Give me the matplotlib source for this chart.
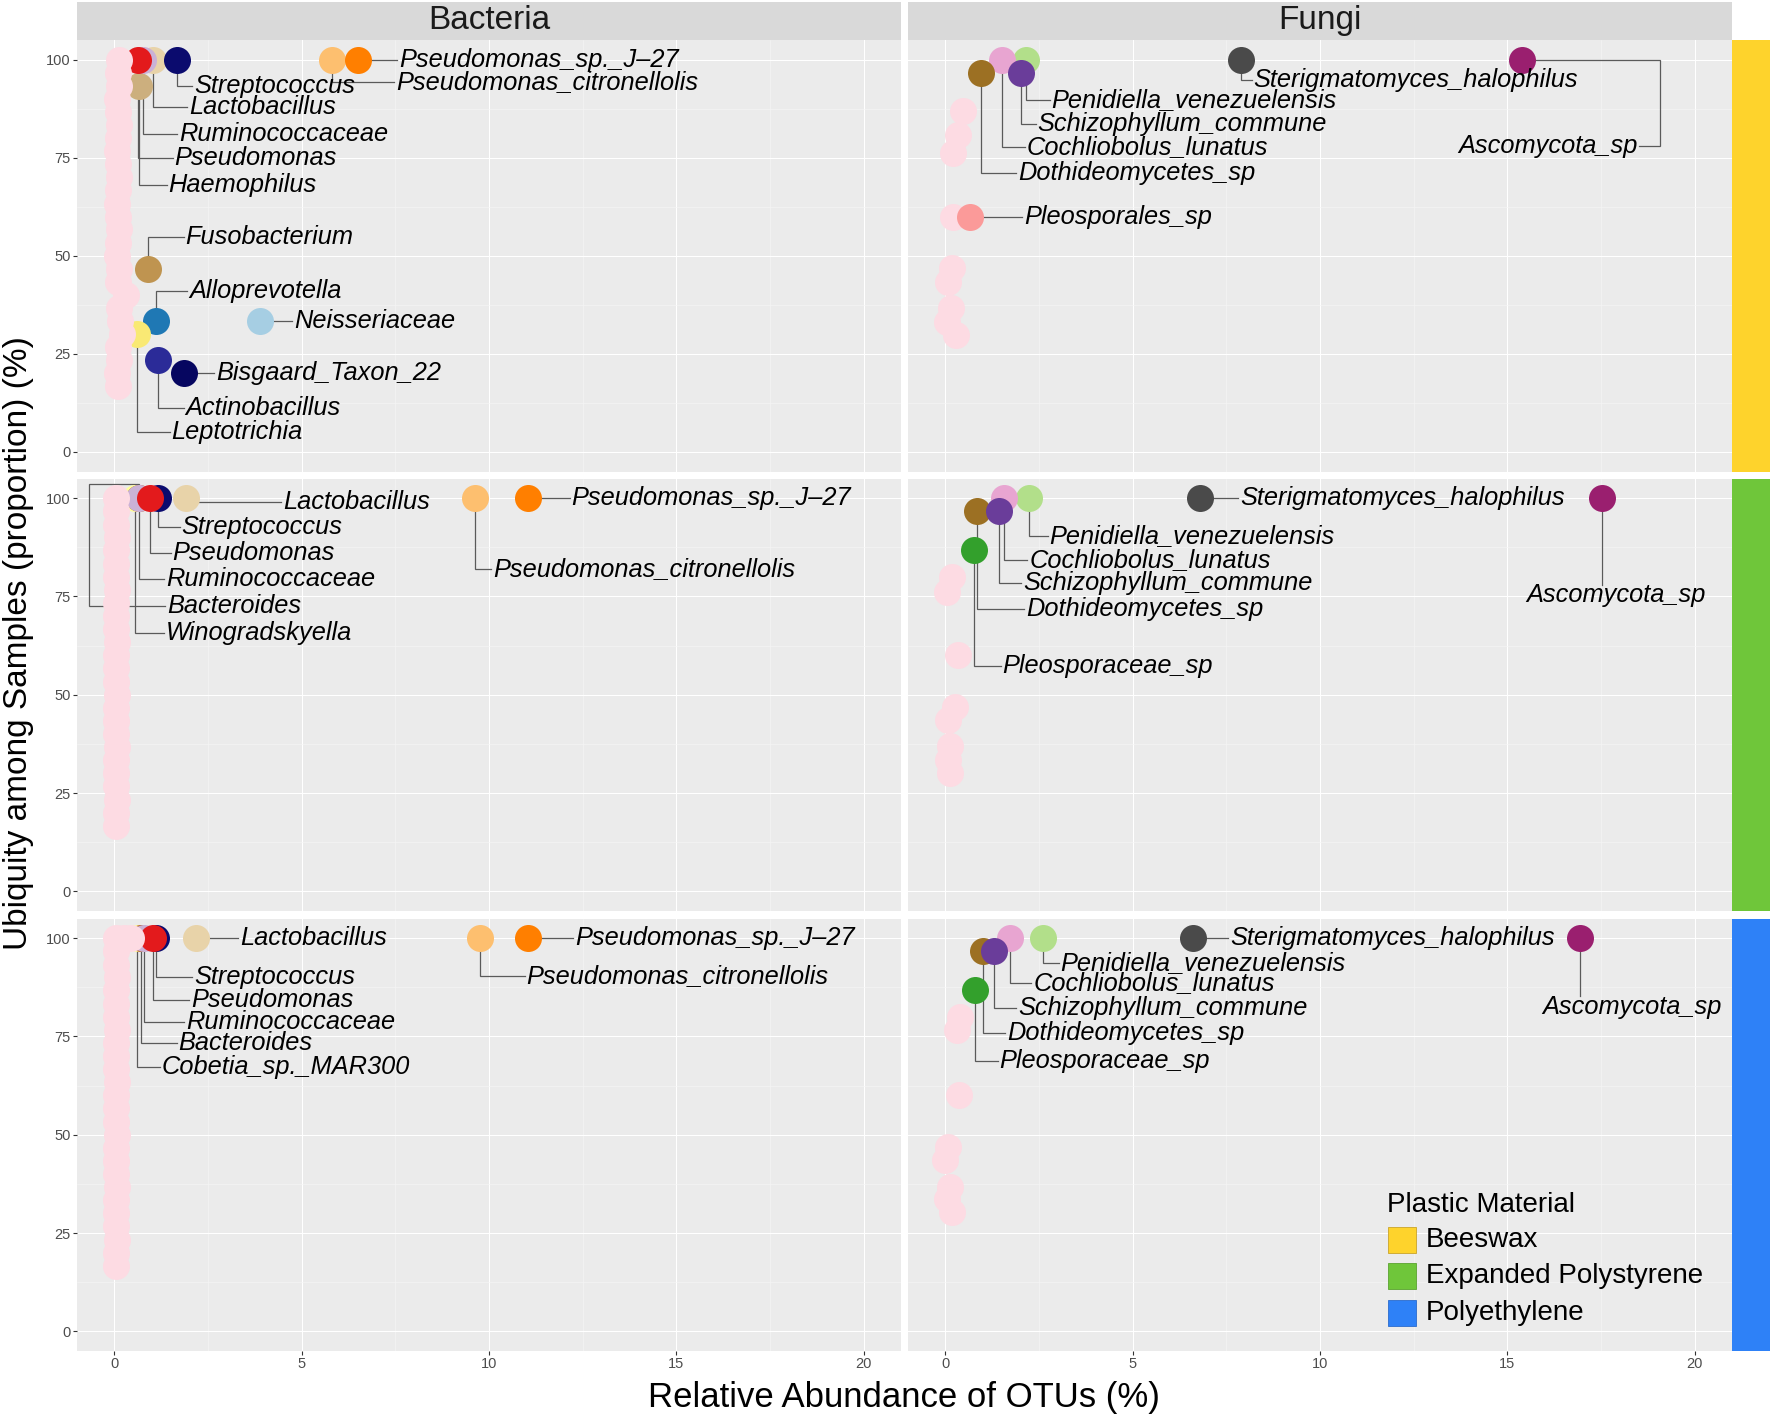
import matplotlib
matplotlib.use("Agg")
import matplotlib.pyplot as plt
from matplotlib.patches import Rectangle

# ---------------------------------------------------------------- data
KINGDOMS = ["Bacteria", "Fungi"]
MATERIALS = ["Beeswax", "Expanded Polystyrene", "Polyethylene"]
X_TICKS = [0, 5, 10, 15, 20]
Y_TICKS = [0, 25, 50, 75, 100]

# Bacteria - Beeswax
BACT_BW_TAXA = ["Alloprevotella", "Leptotrichia", "Actinobacillus", "Bisgaard_Taxon_22",
                "Neisseriaceae", "Fusobacterium", "Haemophilus", "Lactobacillus",
                "Ruminococcaceae", "Pseudomonas", "Streptococcus",
                "Pseudomonas_citronellolis", "Pseudomonas_sp._J\u201327"]
BACT_BW_ABUND = [1.12, 0.60, 1.17, 1.87, 3.89, 0.90, 0.65, 1.03, 0.76, 0.63, 1.66, 5.80, 6.50]
BACT_BW_UBIQ = [33.3, 30.0, 23.3, 20.0, 33.3, 46.7, 93.3, 100, 100, 100, 100, 100, 100]
BACT_BW_OTHER_ABUND = [0.10, 0.08, 0.12, 0.10, 0.20, 0.15, 0.12, 0.30, 0.10, 0.12, 0.08, 0.10, 0.12,
                       0.10, 0.08, 0.10, 0.12, 0.10, 0.08, 0.10, 0.12, 0.10, 0.08, 0.12, 0.10, 0.12]
BACT_BW_OTHER_UBIQ = [16.7, 20.0, 23.3, 26.7, 30.0, 33.3, 36.7, 40.0, 43.3, 46.7, 50.0, 53.3, 56.7,
                      60.0, 63.3, 66.7, 70.0, 73.3, 76.7, 80.0, 83.3, 86.7, 90.0, 93.3, 96.7, 100]

# Bacteria - Expanded Polystyrene
BACT_EPS_TAXA = ["Winogradskyella", "Bacteroides", "Lactobacillus", "Streptococcus",
                 "Ruminococcaceae", "Pseudomonas", "Pseudomonas_citronellolis",
                 "Pseudomonas_sp._J\u201327"]
BACT_EPS_ABUND = [0.56, 0.65, 1.92, 1.15, 0.65, 0.96, 9.63, 11.04]
BACT_EPS_UBIQ = [100, 100, 100, 100, 100, 100, 100, 100]
BACT_EPS_OTHER_ABUND = [0.05, 0.04, 0.06, 0.05, 0.04, 0.05, 0.06, 0.05, 0.04, 0.05, 0.06, 0.05, 0.04,
                        0.05, 0.06, 0.05, 0.04, 0.05, 0.06, 0.05, 0.04, 0.05, 0.06, 0.05, 0.04, 0.05]
BACT_EPS_OTHER_UBIQ = [16.7, 20.0, 23.3, 26.7, 30.0, 33.3, 36.7, 40.0, 43.3, 46.7, 50.0, 53.3, 56.7,
                       60.0, 63.3, 66.7, 70.0, 73.3, 76.7, 80.0, 83.3, 86.7, 90.0, 93.3, 96.7, 100]

# Bacteria - Polyethylene
BACT_PE_TAXA = ["Cobetia_sp._MAR300", "Bacteroides", "Ruminococcaceae", "Streptococcus",
                "Pseudomonas", "Lactobacillus", "Pseudomonas_citronellolis",
                "Pseudomonas_sp._J\u201327"]
BACT_PE_ABUND = [0.60, 0.70, 0.80, 1.12, 1.03, 2.19, 9.77, 11.05]
BACT_PE_UBIQ = [100, 100, 100, 100, 100, 100, 100, 100]
BACT_PE_OTHER_ABUND = [0.05, 0.04, 0.06, 0.05, 0.04, 0.05, 0.06, 0.05, 0.04, 0.05, 0.06, 0.05, 0.04,
                       0.05, 0.06, 0.05, 0.04, 0.05, 0.06, 0.05, 0.04, 0.05, 0.06, 0.05, 0.04, 0.05,
                       0.25, 0.45]
BACT_PE_OTHER_UBIQ = [16.7, 20.0, 23.3, 26.7, 30.0, 33.3, 36.7, 40.0, 43.3, 46.7, 50.0, 53.3, 56.7,
                      60.0, 63.3, 66.7, 70.0, 73.3, 76.7, 80.0, 83.3, 86.7, 90.0, 93.3, 96.7, 100,
                      100, 100]

# Fungi - Beeswax
FUNGI_BW_TAXA = ["Penidiella_venezuelensis", "Cochliobolus_lunatus", "Dothideomycetes_sp",
                 "Schizophyllum_commune", "Sterigmatomyces_halophilus", "Ascomycota_sp",
                 "Pleosporales_sp"]
FUNGI_BW_ABUND = [2.16, 1.52, 0.96, 2.03, 7.90, 15.40, 0.66]
FUNGI_BW_UBIQ = [100, 100, 96.7, 96.7, 100, 100, 60.0]
FUNGI_BW_OTHER_ABUND = [0.48, 0.33, 0.21, 0.19, 0.18, 0.06, 0.14, 0.03, 0.29]
FUNGI_BW_OTHER_UBIQ = [86.9, 80.7, 76.3, 60.0, 46.8, 43.3, 36.6, 33.2, 29.8]

# Fungi - Expanded Polystyrene
FUNGI_EPS_TAXA = ["Penidiella_venezuelensis", "Cochliobolus_lunatus", "Dothideomycetes_sp",
                  "Schizophyllum_commune", "Pleosporaceae_sp", "Sterigmatomyces_halophilus",
                  "Ascomycota_sp"]
FUNGI_EPS_ABUND = [2.24, 1.55, 0.85, 1.42, 0.75, 6.80, 17.53]
FUNGI_EPS_UBIQ = [100, 100, 96.7, 96.7, 86.7, 100, 100]
FUNGI_EPS_OTHER_ABUND = [0.18, 0.04, 0.33, 0.26, 0.08, 0.13, 0.08, 0.13]
FUNGI_EPS_OTHER_UBIQ = [80.0, 76.2, 60.0, 46.9, 43.5, 36.9, 33.5, 30.2]

# Fungi - Polyethylene
FUNGI_PE_TAXA = ["Penidiella_venezuelensis", "Cochliobolus_lunatus", "Dothideomycetes_sp",
                 "Schizophyllum_commune", "Pleosporaceae_sp", "Sterigmatomyces_halophilus",
                 "Ascomycota_sp"]
FUNGI_PE_ABUND = [2.60, 1.71, 1.00, 1.30, 0.80, 6.60, 16.94]
FUNGI_PE_UBIQ = [100, 100, 96.7, 96.7, 86.7, 100, 100]
FUNGI_PE_OTHER_ABUND = [0.40, 0.30, 0.36, 0.08, 0.00, 0.13, 0.05, 0.18]
FUNGI_PE_OTHER_UBIQ = [80.0, 76.6, 60.0, 46.9, 43.6, 36.7, 33.7, 30.3]

# ---------------------------------------------------------------- styles
TAXON_COLORS = {
    "Pseudomonas_sp._J\u201327": "#FF7F00",
    "Pseudomonas_citronellolis": "#FDBF6F",
    "Streptococcus": "#0B0B6E",
    "Lactobacillus": "#E8D3A9",
    "Ruminococcaceae": "#CAB2D6",
    "Pseudomonas": "#E31A1C",
    "Haemophilus": "#CCAF7E",
    "Fusobacterium": "#BF9450",
    "Alloprevotella": "#1F78B4",
    "Neisseriaceae": "#A6CEE3",
    "Leptotrichia": "#F9E974",
    "Actinobacillus": "#2B2B98",
    "Bisgaard_Taxon_22": "#060660",
    "Bacteroides": "#B15928",
    "Winogradskyella": "#FFFF99",
    "Cobetia_sp._MAR300": "#FFFF99",
    "Penidiella_venezuelensis": "#B2DF8A",
    "Cochliobolus_lunatus": "#E8A5D1",
    "Dothideomycetes_sp": "#9C7023",
    "Schizophyllum_commune": "#6A3D9A",
    "Sterigmatomyces_halophilus": "#4A4A4A",
    "Ascomycota_sp": "#9A1F6F",
    "Pleosporales_sp": "#FB9A99",
    "Pleosporaceae_sp": "#33A02C",
}
OTHER_COLOR = "#FDDBE3"
MATERIAL_COLORS = ["#FED32C", "#6FC63A", "#2E81F7"]

# label layout (positions in data units; left edge x, centre y)
LABELS = {
    ("Bacteria", 0): {
        "Pseudomonas_sp._J\u201327": dict(pos=(7.60, 100.0)),
        "Pseudomonas_citronellolis": dict(pos=(7.52, 94.3)),
        "Streptococcus": dict(pos=(2.13, 93.4)),
        "Lactobacillus": dict(pos=(2.00, 88.0)),
        "Ruminococcaceae": dict(pos=(1.73, 81.0)),
        "Pseudomonas": dict(pos=(1.60, 75.0)),
        "Haemophilus": dict(pos=(1.44, 68.0)),
        "Fusobacterium": dict(pos=(1.90, 54.7)),
        "Alloprevotella": dict(pos=(2.00, 41.0)),
        "Neisseriaceae": dict(pos=(4.80, 33.3)),
        "Bisgaard_Taxon_22": dict(pos=(2.72, 20.0)),
        "Actinobacillus": dict(pos=(1.90, 11.2)),
        "Leptotrichia": dict(pos=(1.52, 5.0)),
    },
    ("Bacteria", 1): {
        "Lactobacillus": dict(pos=(4.50, 99.0)),
        "Streptococcus": dict(pos=(1.79, 92.6)),
        "Pseudomonas": dict(pos=(1.55, 86.0)),
        "Ruminococcaceae": dict(pos=(1.38, 79.4)),
        "Bacteroides": dict(pos=(1.41, 72.6), kind="left", xl=-0.67, yt=103.6),
        "Winogradskyella": dict(pos=(1.38, 65.7)),
        "Pseudomonas_sp._J\u201327": dict(pos=(12.20, 100.0)),
        "Pseudomonas_citronellolis": dict(pos=(10.10, 82.0)),
    },
    ("Bacteria", 2): {
        "Lactobacillus": dict(pos=(3.35, 100.0)),
        "Streptococcus": dict(pos=(2.13, 90.0)),
        "Pseudomonas": dict(pos=(2.05, 84.3)),
        "Ruminococcaceae": dict(pos=(1.92, 78.7)),
        "Bacteroides": dict(pos=(1.71, 73.3)),
        "Cobetia_sp._MAR300": dict(pos=(1.27, 67.3)),
        "Pseudomonas_sp._J\u201327": dict(pos=(12.30, 100.0)),
        "Pseudomonas_citronellolis": dict(pos=(11.00, 90.4)),
    },
    ("Fungi", 0): {
        "Sterigmatomyces_halophilus": dict(pos=(8.23, 94.7)),
        "Penidiella_venezuelensis": dict(pos=(2.83, 89.8)),
        "Schizophyllum_commune": dict(pos=(2.46, 83.7)),
        "Cochliobolus_lunatus": dict(pos=(2.17, 77.6)),
        "Dothideomycetes_sp": dict(pos=(1.93, 71.0)),
        "Pleosporales_sp": dict(pos=(2.09, 59.8)),
        "Ascomycota_sp": dict(pos=(18.47, 78.1), kind="right", xr=19.07),
    },
    ("Fungi", 1): {
        "Sterigmatomyces_halophilus": dict(pos=(7.86, 100.0)),
        "Penidiella_venezuelensis": dict(pos=(2.78, 90.4)),
        "Cochliobolus_lunatus": dict(pos=(2.24, 84.3)),
        "Schizophyllum_commune": dict(pos=(2.07, 78.5)),
        "Dothideomycetes_sp": dict(pos=(2.16, 71.8)),
        "Pleosporaceae_sp": dict(pos=(1.52, 57.4)),
        "Ascomycota_sp": dict(pos=(15.50, 75.4), kind="down", end=77.9),
    },
    ("Fungi", 2): {
        "Sterigmatomyces_halophilus": dict(pos=(7.60, 100.0)),
        "Penidiella_venezuelensis": dict(pos=(3.07, 93.7)),
        "Cochliobolus_lunatus": dict(pos=(2.34, 88.5)),
        "Schizophyllum_commune": dict(pos=(1.94, 82.3)),
        "Dothideomycetes_sp": dict(pos=(1.64, 75.8)),
        "Pleosporaceae_sp": dict(pos=(1.44, 68.7)),
        "Ascomycota_sp": dict(pos=(15.94, 82.6), kind="down", end=85.3),
    },
}

PANELS = {
    ("Bacteria", 0): (BACT_BW_TAXA, BACT_BW_ABUND, BACT_BW_UBIQ, BACT_BW_OTHER_ABUND, BACT_BW_OTHER_UBIQ),
    ("Bacteria", 1): (BACT_EPS_TAXA, BACT_EPS_ABUND, BACT_EPS_UBIQ, BACT_EPS_OTHER_ABUND, BACT_EPS_OTHER_UBIQ),
    ("Bacteria", 2): (BACT_PE_TAXA, BACT_PE_ABUND, BACT_PE_UBIQ, BACT_PE_OTHER_ABUND, BACT_PE_OTHER_UBIQ),
    ("Fungi", 0): (FUNGI_BW_TAXA, FUNGI_BW_ABUND, FUNGI_BW_UBIQ, FUNGI_BW_OTHER_ABUND, FUNGI_BW_OTHER_UBIQ),
    ("Fungi", 1): (FUNGI_EPS_TAXA, FUNGI_EPS_ABUND, FUNGI_EPS_UBIQ, FUNGI_EPS_OTHER_ABUND, FUNGI_EPS_OTHER_UBIQ),
    ("Fungi", 2): (FUNGI_PE_TAXA, FUNGI_PE_ABUND, FUNGI_PE_UBIQ, FUNGI_PE_OTHER_ABUND, FUNGI_PE_OTHER_UBIQ),
}

# ---------------------------------------------------------------- figure
W, H, DPI = 1772, 1417, 100
plt.rcParams["font.family"] = ["Liberation Sans", "DejaVu Sans"]
fig = plt.figure(figsize=(W / DPI, H / DPI), dpi=DPI)

COL_X = [(77, 901), (908, 1732)]
ROW_Y = [(40, 471.5), (478.5, 911), (918.5, 1351)]
STRIP_TOP = (2, 39.5)
STRIP_RIGHT = (1732, 1770)

MARKER_S = 378
LABEL_FS = 18.3
LINE_COLOR = "#5A5A5A"
GAP = 0.05


def frac(x0, y0, x1, y1):
    return [x0 / W, 1 - y1 / H, (x1 - x0) / W, (y1 - y0) / H]


def fig_rect(x0, y0, x1, y1, color, z=0, edge="none"):
    fig.add_artist(Rectangle((x0 / W, 1 - y1 / H), (x1 - x0) / W, (y1 - y0) / H,
                             transform=fig.transFigure, facecolor=color,
                             edgecolor=edge, lw=0.6, zorder=z))


def connector(ax, px, py, spec):
    lx, ly = spec["pos"]
    kind = spec.get("kind", "elbow")
    if kind == "elbow":
        xs, ys = [px, px, lx - GAP], [py, ly, ly]
    elif kind == "down":
        xs, ys = [px, px], [py, spec["end"]]
    elif kind == "right":
        xr = spec["xr"]
        xs, ys = [px, xr, xr, lx + GAP], [py, py, ly, ly]
    else:  # left
        xl, yt = spec["xl"], spec["yt"]
        xs, ys = [px, px, xl, xl, lx - GAP], [py, yt, yt, ly, ly]
    ax.plot(xs, ys, color=LINE_COLOR, lw=0.9, zorder=1.5, clip_on=False,
            solid_joinstyle="miter")
    ha = "right" if kind == "right" else "left"
    ax.text(lx, ly, spec["name"], fontsize=LABEL_FS, style="italic", ha=ha,
            va="center", color="black", zorder=7)


for ci, kingdom in enumerate(KINGDOMS):
    for ri in range(3):
        x0, x1 = COL_X[ci]
        y0, y1 = ROW_Y[ri]
        ax = fig.add_axes(frac(x0, y0, x1, y1))
        ax.set_facecolor("#EBEBEB")
        ax.set_xlim(-1, 21)
        ax.set_ylim(-5, 105)
        ax.set_xticks(X_TICKS)
        ax.set_yticks(Y_TICKS)
        ax.set_xticks([2.5, 7.5, 12.5, 17.5], minor=True)
        ax.set_yticks([12.5, 37.5, 62.5, 87.5], minor=True)
        ax.set_axisbelow(True)
        ax.grid(which="major", color="white", lw=0.75)
        ax.grid(which="minor", color="#F6F6F6", lw=0.4)
        for s in ax.spines.values():
            s.set_visible(False)
        ax.tick_params(which="minor", length=0)
        ax.tick_params(which="major", length=3, width=0.8, color="#333333",
                       labelsize=10.5, labelcolor="#4D4D4D", pad=1.5)
        if ri != 2:
            ax.tick_params(axis="x", length=0, labelbottom=False)
        if ci != 0:
            ax.tick_params(axis="y", length=0, labelleft=False)

        taxa, ab, ub, oab, oub = PANELS[(kingdom, ri)]
        pink_z = 5 if kingdom == "Bacteria" else 2
        ax.scatter(oab, oub, s=MARKER_S, c=OTHER_COLOR, linewidths=0, zorder=pink_z)
        for i, (t, x, y) in enumerate(zip(taxa, ab, ub)):
            ax.scatter([x], [y], s=MARKER_S, c=TAXON_COLORS[t], linewidths=0,
                       zorder=3 + i * 0.01)
        for t, x, y in zip(taxa, ab, ub):
            spec = LABELS[(kingdom, ri)].get(t)
            if spec is not None:
                spec = dict(spec, name=t)
                connector(ax, x, y, spec)

# top strips
for ci, kingdom in enumerate(KINGDOMS):
    x0, x1 = COL_X[ci]
    fig_rect(x0, STRIP_TOP[0], x1, STRIP_TOP[1], "#D9D9D9")
    fig.text((x0 + x1) / 2 / W, 1 - (STRIP_TOP[0] + STRIP_TOP[1]) / 2 / H, kingdom,
             ha="center", va="center", fontsize=24, color="#1A1A1A")

# right strips (material colour)
for ri in range(3):
    y0, y1 = ROW_Y[ri]
    fig_rect(STRIP_RIGHT[0], y0, STRIP_RIGHT[1], y1, MATERIAL_COLORS[ri])

# axis titles
fig.text(904 / W, 1 - 1397 / H, "Relative Abundance of OTUs (%)", ha="center",
         va="center", fontsize=25, color="black")
fig.text(19 / W, 1 - 643 / H, "Ubiquity among Samples (proportion) (%)", ha="center",
         va="center", rotation=90, fontsize=24, color="black")

# legend
fig.text(1387 / W, 1 - 1205 / H, "Plastic Material", ha="left", va="center",
         fontsize=20, color="black", zorder=6)
KEY_Y = [1240, 1276, 1313]
KEY_EDGES = ["#C9A42A", "#5AA32F", "#2A6BCC"]
for name, col, edge, yc in zip(MATERIALS, MATERIAL_COLORS, KEY_EDGES, KEY_Y):
    fig_rect(1388, yc - 13.3, 1416, yc + 13.3, col, z=6, edge=edge)
    fig.text(1425.5 / W, 1 - yc / H, name, ha="left", va="center", fontsize=20,
             color="black", zorder=6)

fig.savefig("out.png", dpi=DPI)
